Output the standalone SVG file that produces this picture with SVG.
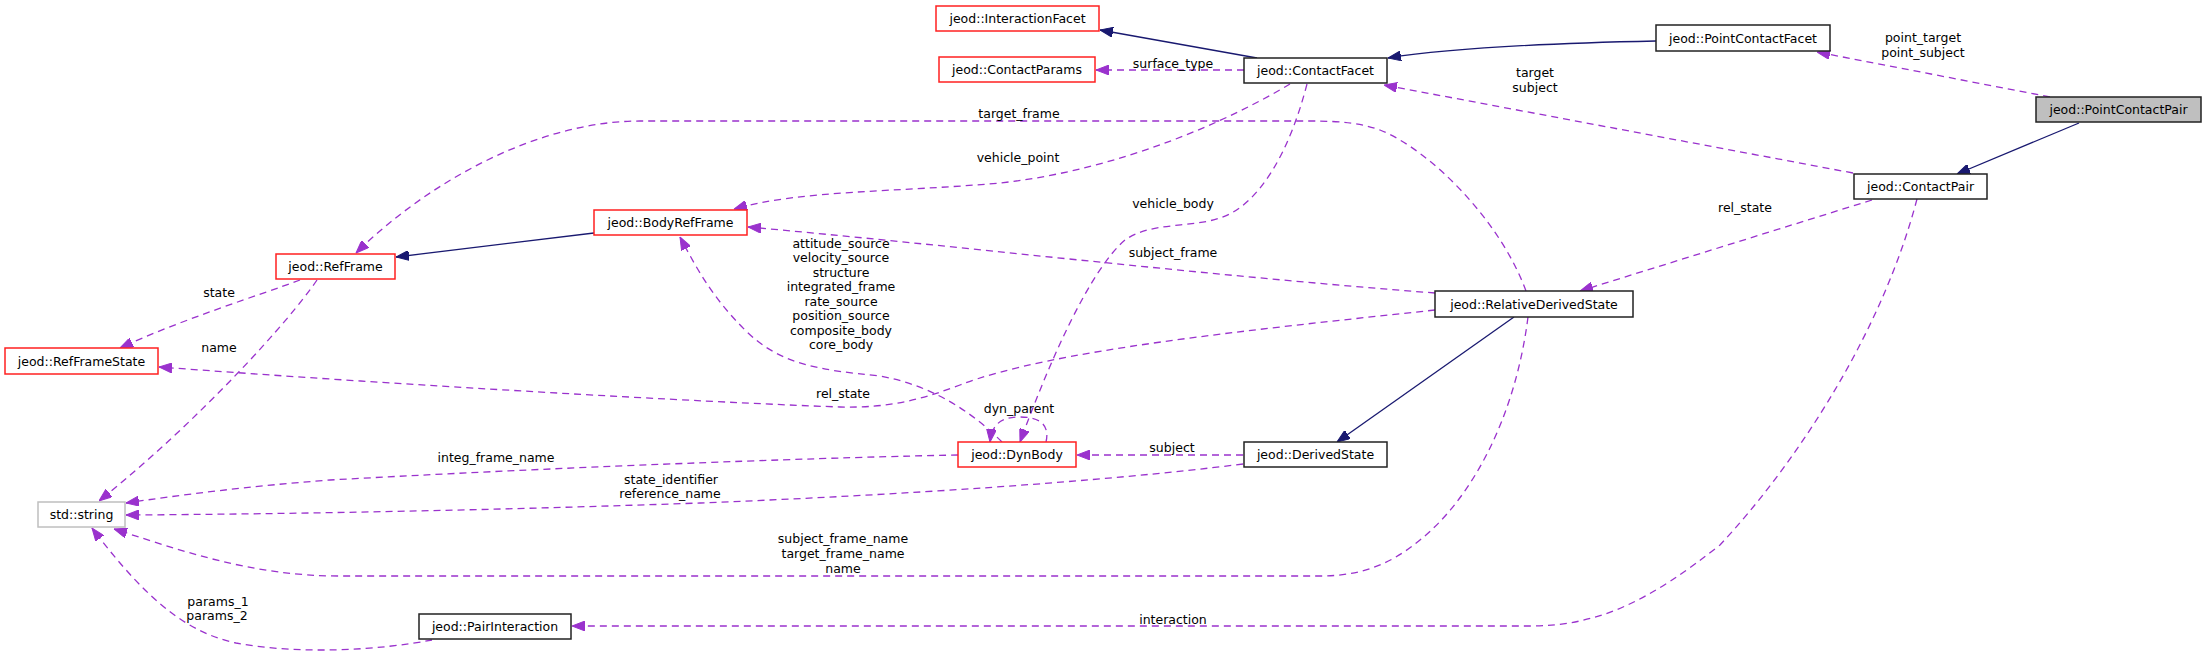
<svg xmlns="http://www.w3.org/2000/svg" width="2207" height="655" viewBox="0 0 2207 655">
<style>
text{font-family:"DejaVu Sans","Liberation Sans",sans-serif;font-size:12.5px;fill:#000}
.n text{text-anchor:middle}
.box{fill:#fff;stroke:#222;stroke-width:1.5}
.red{fill:#fff;stroke:#ff2020;stroke-width:1.5}
.ext{fill:#fff;stroke:#bfbfbf;stroke-width:1.5}
.root{fill:#bfbfbf;stroke:#222;stroke-width:1.5}
.d{fill:none;stroke:#9a32cd;stroke-width:1.3;stroke-dasharray:7,5;marker-end:url(#ap)}
.s{fill:none;stroke:#191970;stroke-width:1.3;marker-end:url(#an)}
.l text{text-anchor:middle}
</style>
<defs>
<marker id="ap" viewBox="0 0 13 10" refX="13" refY="5" markerWidth="13" markerHeight="10" markerUnits="userSpaceOnUse" orient="auto"><path d="M0,0 L13,5 L0,10 z" fill="#9a32cd" stroke="#9a32cd" stroke-width="1" stroke-dasharray="none"/></marker>
<marker id="an" viewBox="0 0 13 10" refX="13" refY="5" markerWidth="13" markerHeight="10" markerUnits="userSpaceOnUse" orient="auto"><path d="M0,0 L13,5 L0,10 z" fill="#191970" stroke="#191970" stroke-width="1"/></marker>
</defs>
<rect width="2207" height="655" fill="#fff"/>
<g id="edges">
<path class="s" d="M1257,58 L1100,30"/>
<path class="d" d="M1244,70 L1096,70"/>
<path class="s" d="M1656,41 C1560,43 1450,48 1388,58"/>
<path class="d" d="M2050,97 L1817,52"/>
<path class="s" d="M2079,123 L1957,174"/>
<path class="d" d="M1853,173 L1384,85"/>
<path class="d" d="M1872,200 L1580,291"/>
<path class="d" d="M1917,199 C1880,340 1790,470 1720,545 C1650,600 1600,626 1530,626 L572,626"/>
<path class="d" d="M1526,291 C1500,220 1430,150 1380,130 C1360,123 1340,121 1310,121 L640,121 C540,121 430,180 356,253"/>
<path class="d" d="M1435,293 C1200,275 950,245 748,227"/>
<path class="d" d="M1435,310 C1250,330 1050,350 960,385 C920,400 890,408 840,407 C700,402 400,385 159,367"/>
<path class="s" d="M1514,317 L1337,442"/>
<path class="d" d="M1528,317 C1515,420 1470,500 1420,540 C1390,565 1360,576 1320,576 L340,576 C250,576 180,550 114,529"/>
<path class="d" d="M1243,455 L1077,455"/>
<path class="d" d="M1243,464 C1100,482 900,495 700,503 C500,510 300,514 126,515"/>
<path class="d" d="M958,455 C850,457 600,465 330,480 C250,486 180,495 126,503"/>
<path class="d" d="M1002,442 C970,410 930,385 880,376 C820,370 780,365 745,330 C715,300 700,275 680,237"/>
<path class="d" d="M1046,442 C1050,425 1040,417 1020,417 C1000,417 992,425 990,442"/>
<path class="d" d="M1307,84 C1290,150 1260,205 1220,218 C1190,228 1150,222 1125,240 C1090,270 1050,360 1020,442"/>
<path class="d" d="M1290,84 C1230,120 1120,170 1000,183 C900,192 800,190 734,209"/>
<path class="s" d="M594,233 L396,257"/>
<path class="d" d="M300,280 C260,295 180,320 120,348"/>
<path class="d" d="M317,280 C290,320 200,420 99,501"/>
<path class="d" d="M432,640 C380,650 300,655 236,643 C190,633 150,605 92,528"/>
</g>
<g id="labels" class="l">
<text x="1173" y="67.5">surface_type</text>
<text x="1923" y="41.5">point_target</text>
<text x="1923" y="56.5">point_subject</text>
<text x="1535" y="76.5">target</text>
<text x="1535" y="91.5">subject</text>
<text x="1745" y="211.5">rel_state</text>
<text x="1173" y="623.5">interaction</text>
<text x="1019" y="117.5">target_frame</text>
<text x="1173" y="256.5">subject_frame</text>
<text x="843" y="397.5">rel_state</text>
<text x="843" y="542.5">subject_frame_name</text>
<text x="843" y="557.5">target_frame_name</text>
<text x="843" y="572.5">name</text>
<text x="1172" y="451.5">subject</text>
<text x="671" y="483.5">state_identifier</text>
<text x="670" y="497.5">reference_name</text>
<text x="496" y="461.5">integ_frame_name</text>
<text x="841" y="247.5">attitude_source</text>
<text x="841" y="262">velocity_source</text>
<text x="841" y="276.5">structure</text>
<text x="841" y="291">integrated_frame</text>
<text x="841" y="305.5">rate_source</text>
<text x="841" y="320">position_source</text>
<text x="841" y="334.5">composite_body</text>
<text x="841" y="349">core_body</text>
<text x="1019" y="413">dyn_parent</text>
<text x="1173" y="207.5">vehicle_body</text>
<text x="1018" y="161.5">vehicle_point</text>
<text x="219" y="296.5">state</text>
<text x="219" y="351.5">name</text>
<text x="218" y="605.5">params_1</text>
<text x="217" y="620">params_2</text>
</g>
<g id="InteractionFacet" class="n"><rect class="red" x="936" y="6" width="163" height="25"/><text x="1017.5" y="23">jeod::InteractionFacet</text></g>
<g id="ContactParams" class="n"><rect class="red" x="939" y="57" width="156" height="25"/><text x="1017" y="74">jeod::ContactParams</text></g>
<g id="ContactFacet" class="n"><rect class="box" x="1244" y="58" width="143" height="25"/><text x="1315.5" y="75">jeod::ContactFacet</text></g>
<g id="PointContactFacet" class="n"><rect class="box" x="1656" y="25" width="174" height="26"/><text x="1743" y="42.5">jeod::PointContactFacet</text></g>
<g id="PointContactPair" class="n"><rect class="root" x="2036" y="97" width="165" height="25"/><text x="2118.5" y="114">jeod::PointContactPair</text></g>
<g id="ContactPair" class="n"><rect class="box" x="1854" y="174" width="133" height="25"/><text x="1920.5" y="191">jeod::ContactPair</text></g>
<g id="BodyRefFrame" class="n"><rect class="red" x="594" y="210" width="153" height="25"/><text x="670.5" y="227">jeod::BodyRefFrame</text></g>
<g id="RefFrame" class="n"><rect class="red" x="276" y="254" width="119" height="25"/><text x="335.5" y="271">jeod::RefFrame</text></g>
<g id="RefFrameState" class="n"><rect class="red" x="5" y="348" width="153" height="26"/><text x="81.5" y="365.5">jeod::RefFrameState</text></g>
<g id="RelativeDerivedState" class="n"><rect class="box" x="1435" y="291" width="198" height="26"/><text x="1534" y="308.5">jeod::RelativeDerivedState</text></g>
<g id="DynBody" class="n"><rect class="red" x="958" y="442" width="118" height="25"/><text x="1017" y="459">jeod::DynBody</text></g>
<g id="DerivedState" class="n"><rect class="box" x="1244" y="442" width="143" height="25"/><text x="1315.5" y="459">jeod::DerivedState</text></g>
<g id="std_string" class="n"><rect class="ext" x="38" y="502" width="87" height="25"/><text x="81.5" y="519">std::string</text></g>
<g id="PairInteraction" class="n"><rect class="box" x="419" y="614" width="152" height="25"/><text x="495" y="631">jeod::PairInteraction</text></g>
</svg>
